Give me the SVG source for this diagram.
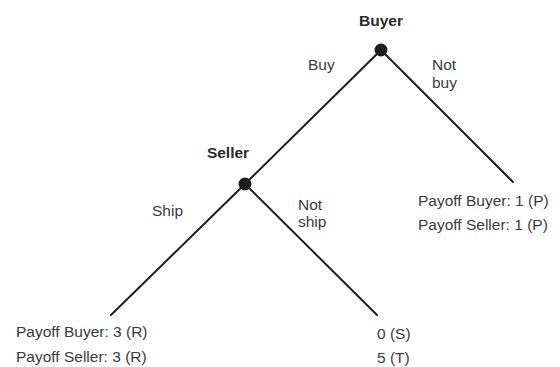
<svg xmlns="http://www.w3.org/2000/svg" width="560" height="367" viewBox="0 0 560 367">
  <style>
    .bg { fill: #ffffff; }
    .edge { stroke: #1e1e1e; stroke-width: 2; fill: none; stroke-linecap: round; }
    .dot { fill: #1e1e1e; }
    .player { font-family: "Liberation Sans", Arial, sans-serif; font-size: 15.5px; font-weight: bold; fill: #2a2a2a; }
    .lbl { font-family: "Liberation Sans", Arial, sans-serif; font-size: 15.5px; fill: #3a3a3a; }
  </style>
  <rect class="bg" x="0" y="0" width="560" height="367"/>

  <!-- branches of the game tree -->
  <g id="connectors">
    <line class="edge" x1="381" y1="50" x2="245" y2="184"/>
    <line class="edge" x1="381" y1="50" x2="513" y2="182"/>
    <line class="edge" x1="245" y1="184" x2="111" y2="315"/>
    <line class="edge" x1="245" y1="184" x2="377" y2="315"/>
  </g>

  <!-- edge labels -->
  <g id="edge-labels">
    <text class="lbl" x="308" y="70">Buy</text>
    <text class="lbl" x="432" y="70">Not</text>
    <text class="lbl" x="432" y="88">buy</text>
    <text class="lbl" x="152" y="216">Ship</text>
    <text class="lbl" x="298" y="210">Not</text>
    <text class="lbl" x="298" y="227">ship</text>
  </g>

  <!-- decision nodes -->
  <g id="buyer">
    <circle class="dot" cx="381" cy="50" r="6.5"/>
    <text class="player" x="381" y="26" text-anchor="middle">Buyer</text>
  </g>
  <g id="seller">
    <circle class="dot" cx="245" cy="184" r="6.5"/>
    <text class="player" x="228" y="158" text-anchor="middle">Seller</text>
  </g>

  <!-- terminal payoffs -->
  <g id="payoff-not-buy">
    <text class="lbl" x="418" y="206">Payoff Buyer: 1 (P)</text>
    <text class="lbl" x="418" y="230">Payoff Seller: 1 (P)</text>
  </g>
  <g id="payoff-ship">
    <text class="lbl" x="16" y="337">Payoff Buyer: 3 (R)</text>
    <text class="lbl" x="16" y="362">Payoff Seller: 3 (R)</text>
  </g>
  <g id="payoff-not-ship">
    <text class="lbl" x="377" y="339">0 (S)</text>
    <text class="lbl" x="377" y="363">5 (T)</text>
  </g>
</svg>
